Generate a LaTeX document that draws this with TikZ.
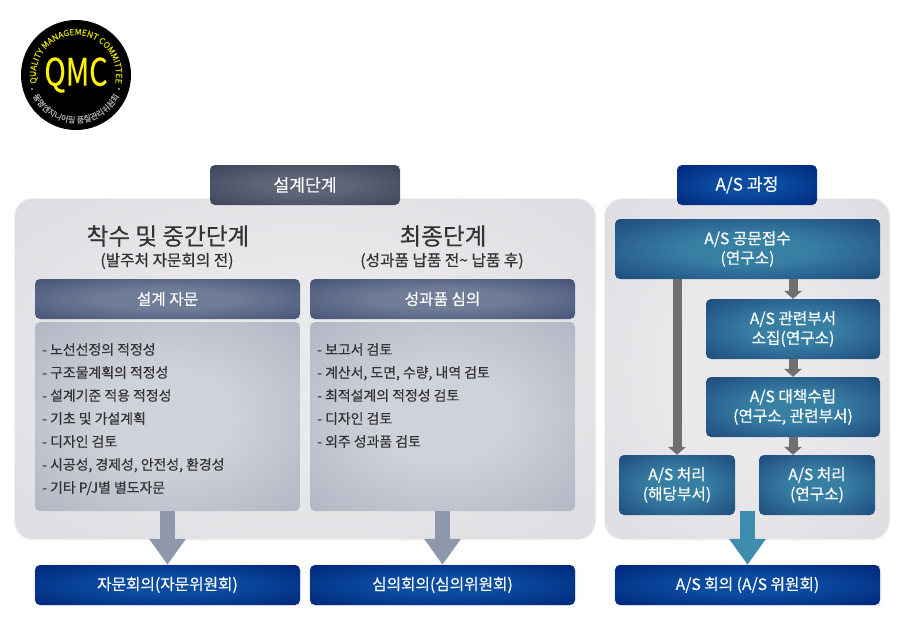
\documentclass[tikz,border=0pt]{standalone}
\usepackage{fontspec}
\setmainfont{Noto Sans CJK KR}[FakeBold=0.35]
\usetikzlibrary{arrows.meta,decorations.text,calc}
\definecolor{panelin}{HTML}{EAEAED}
\definecolor{panelout}{HTML}{DEDEE2}
\definecolor{slatein}{HTML}{5C6475}
\definecolor{slateout}{HTML}{3E465A}
\definecolor{headin}{HTML}{717D98}
\definecolor{headout}{HTML}{465578}
\definecolor{listin}{HTML}{CFD2DA}
\definecolor{listout}{HTML}{B3B7C4}
\definecolor{navyin}{HTML}{0B4BA0}
\definecolor{navyout}{HTML}{00287C}
\definecolor{tealin}{HTML}{387FA4}
\definecolor{tealout}{HTML}{1F4C7E}
\definecolor{slatearrow}{HTML}{8F97AB}
\definecolor{tealarrow}{HTML}{3E8CAE}
\definecolor{grayarrow}{HTML}{6F6F6F}
\definecolor{ink}{HTML}{333333}
\definecolor{logoyellow}{HTML}{DCDC00}
\definecolor{logogray}{HTML}{A8A8A8}
\newcommand{\glowshading}[3]{\pgfdeclareradialshading{#1}{\pgfpoint{0bp}{0bp}}{color(0bp)=(#2);color(12bp)=(#2);color(35bp)=(#3);color(50bp)=(#3)}}
\glowshading{gpanel}{panelin}{panelout}
\glowshading{gslate}{slatein}{slateout}
\glowshading{ghead}{headin}{headout}
\glowshading{glist}{listin}{listout}
\glowshading{gnavy}{navyin}{navyout}
\glowshading{gteal}{tealin}{tealout}
\tikzset{
  x=1pt,y=-1pt,
  box/.style={shading=#1,minimum width=265pt,minimum height=40pt,rounded corners=5pt,inner sep=0pt,align=center,text=white,font=\fontsize{15.7}{19.5}\selectfont},
  halo/.style={preaction={draw=black!5,line width=2.5pt}},
  panel/.style={shading=gpanel,rounded corners=18pt,inner sep=0pt,halo},
  tabtext/.style={font=\fontsize{17.2}{20}\selectfont},
  listtext/.style={text=ink,align=left,anchor=north west,inner sep=0pt,font=\fontsize{13.9}{23}\selectfont},
  title/.style={text=ink,inner sep=0pt,font=\fontsize{23.6}{26}\selectfont},
  subtitle/.style={text=ink,inner sep=0pt,font=\fontsize{15.7}{18}\selectfont},
  bigslate/.style={draw=slatearrow,line width=15pt,-{Triangle[length=26pt,width=35pt,fill=slatearrow]}},
  bigteal/.style={draw=tealarrow,line width=15pt,-{Triangle[length=26pt,width=35pt,fill=tealarrow]}},
  smallgray/.style={draw=grayarrow,line width=9pt,-{Triangle[length=8pt,width=17.5pt,fill=grayarrow]}},
}
\begin{document}
\begin{tikzpicture}
\useasboundingbox (0,0) rectangle (900,638);
\fill[white] (0,0) rectangle (900,638);
% logo
\node[circle,fill=black,minimum size=110pt,inner sep=0pt] (logo) at (76,75) {};
\node[text=yellow,inner sep=0pt,font=\fontsize{38}{38}\selectfont,xscale=.76] (qmc) at (76,75) {QMC};
\path[decorate,decoration={text along path,text align=center,
  text={|\fontsize{8.4}{8.4}\selectfont\color{logoyellow}|QUALITY MANAGEMENT COMMITTEE}}]
  (36.6,82) arc[start angle=190,end angle=-10,radius=40pt];
\path[decorate,decoration={text along path,text align=center,
  text={|\fontsize{8.2}{8.2}\selectfont\color{logogray}|동명엔지니어링 품질관리위원회}}]
  (30.9,91.4) arc[start angle=200,end angle=340,radius=48pt];
\fill[logogray] (32,89) circle (1.2pt) (119,89) circle (1.2pt);
% panels
\node[panel,minimum width=580pt,minimum height=340pt] (leftpanel) at (305,369) {};
\node[panel,minimum width=284pt,minimum height=340pt] (rightpanel) at (747,369) {};
% tabs
\node[box=gslate,minimum width=190pt,tabtext] (design) at (305,185) {설계단계};
\node[box=gnavy,minimum width=140pt,tabtext] (astab) at (747,185) {A/S 과정};
% titles
\node[title] (t1) at (168,236) {착수 및 중간단계};
\node[subtitle] (s1) at (167,261) {(발주처 자문회의 전)};
\node[title] (t2) at (443,236) {최종단계};
\node[subtitle] (s2) at (442,261) {(성과품 납품 전\textasciitilde{} 납품 후)};
% columns
\node[box=ghead] (h1) at (167.5,299) {설계 자문};
\node[box=ghead] (h2) at (442.5,299) {성과품 심의};
\node[box=glist,minimum height=189pt] (l1) at (167.5,416.5) {};
\node[box=glist,minimum height=189pt] (l2) at (442.5,416.5) {};
\node[listtext] (l1t) at (42,343) {- 노선선정의 적정성\\- 구조물계획의 적정성\\- 설계기준 적용 적정성\\- 기초 및 가설계획\\- 디자인 검토\\- 시공성, 경제성, 안전성, 환경성\\- 기타 P/J별 별도자문};
\node[listtext] (l2t) at (317,343) {- 보고서 검토\\- 계산서, 도면, 수량, 내역 검토\\- 최적설계의 적정성 검토\\- 디자인 검토\\- 외주 성과품 검토};
% bottom
\node[box=gnavy,halo] (b1) at (167.5,585) {자문회의(자문위원회)};
\node[box=gnavy,halo] (b2) at (442.5,585) {심의회의(심의위원회)};
\node[box=gnavy,halo] (b3) at (747.5,585) {A/S 회의 (A/S 위원회)};
% A/S
\node[box=gteal,minimum height=60pt] (a1) at (747.5,249) {A/S 공문접수\\(연구소)};
\node[box=gteal,minimum width=174pt,minimum height=60pt] (a2) at (793,329) {A/S 관련부서\\소집(연구소)};
\node[box=gteal,minimum width=174pt,minimum height=60pt] (a3) at (793,407) {A/S 대책수립\\(연구소, 관련부서)};
\node[box=gteal,minimum width=116pt,minimum height=60pt] (a4) at (677,485) {A/S 처리\\(해당부서)};
\node[box=gteal,minimum width=116pt,minimum height=60pt] (a5) at (817,485) {A/S 처리\\(연구소)};
% arrows
\draw[bigslate] (l1.south) -- (b1.north);
\draw[bigslate] (l2.south) -- (b2.north);
\coordinate (tealstart) at (747.5,511);
\draw[bigteal] (tealstart) -- (b3.north);
\coordinate (a1s) at (a1.south -| a4.north);
\draw[smallgray] (a1s) -- (a4.north);
\draw[smallgray] (a1.south -| a2.north) -- (a2.north);
\draw[smallgray] (a2.south) -- (a3.north);
\draw[smallgray] (a3.south) -- (a3.south |- a5.north);
\end{tikzpicture}
\end{document}
